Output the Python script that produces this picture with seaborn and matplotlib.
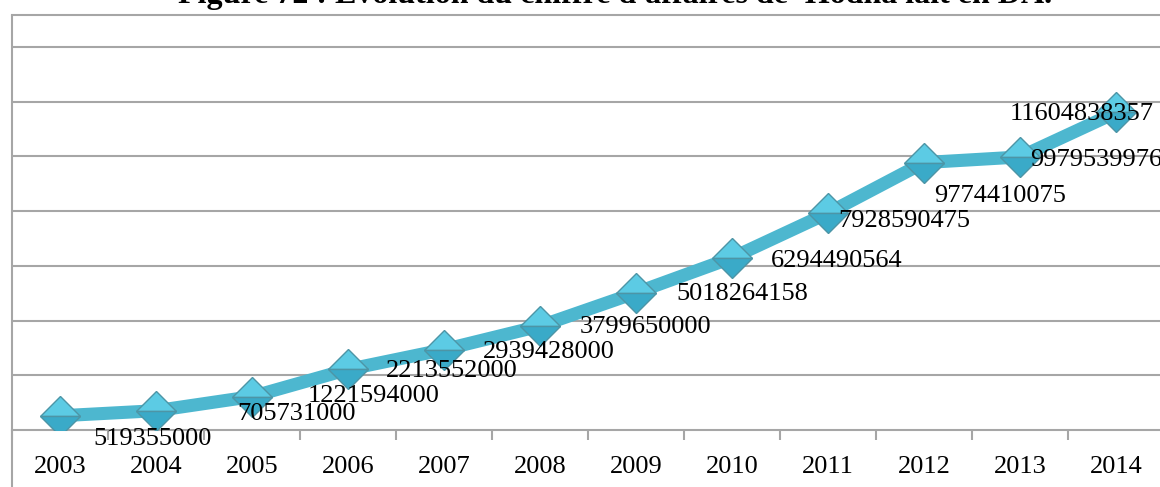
import matplotlib
matplotlib.use("Agg")
import matplotlib.pyplot as plt
import seaborn as sns
import pandas as pd
from matplotlib.lines import Line2D

years = ["2003", "2004", "2005", "2006", "2007", "2008", "2009", "2010",
         "2011", "2012", "2013", "2014"]
revenue = [519355000, 705731000, 1221594000, 2213552000, 2939428000,
           3799650000, 5018264158, 6294490564, 7928590475, 9774410075,
           9979539976, 11604838357]
title = "Figure 72 : Evolution du chiffre d'affaires de 'Hodna lait en DA."

# label offsets in pixels (dx, dy) relative to each point: style only
label_offsets = [(93, -23), (141, -3), (122, 1), (104, -2), (105, -2), (106, -1),
                 (106, -1), (105, -3), (76, -8), (76, -33), (76, -3), (-34, -2)]

W, H, DPI = 1160, 487, 100
sns.set_theme(style="white")
plt.rcParams["font.family"] = ["Liberation Serif", "DejaVu Serif"]

fig = plt.figure(figsize=(W / DPI, H / DPI), dpi=DPI)
left_px, right_px, top_px, bottom_px = 12, 1164, 15, 430
ax = fig.add_axes([left_px / W, (H - bottom_px) / H,
                   (right_px - left_px) / W, (bottom_px - top_px) / H])

df = pd.DataFrame({"pos": range(len(years)), "value": revenue})
line_color = "#4db7cf"
sns.lineplot(data=df, x="pos", y="value", ax=ax, color=line_color,
             linewidth=9.4, marker="D", markersize=20.4,
             fillstyle="top", markerfacecolor="#5ccbe4",
             markerfacecoloralt="#3aaac8", markeredgecolor="#4d95a6",
             markeredgewidth=1.0, solid_capstyle="butt", zorder=3)

ax.set_xlim(-0.5, len(years) - 0.5)
ax.set_ylim(0, (bottom_px - top_px) / 27.36 * 1e9)

grid_color = "#a6a6a6"
ax.set_yticks([2e9 * k for k in range(1, 8)])
ax.set_yticklabels([])
ax.tick_params(axis="y", length=0)
ax.yaxis.grid(True, color=grid_color, linewidth=1.5)
ax.xaxis.grid(False)
ax.set_axisbelow(True)

ax.set_xticks(range(len(years)))
ax.set_xticklabels(years, fontsize=19, color="black")
ax.set_xticks([i - 0.5 for i in range(len(years) + 1)], minor=True)
ax.tick_params(axis="x", which="major", length=0, pad=18.5)
ax.tick_params(axis="x", which="minor", length=7.5, width=1.5,
               color=grid_color, direction="out", bottom=True)
ax.set_xlabel("")
ax.set_ylabel("")

for side in ["left", "right"]:
    ax.spines[side].set_visible(False)
for side in ["top", "bottom"]:
    ax.spines[side].set_color(grid_color)
    ax.spines[side].set_linewidth(1.5)

# outer chart border (left edge), extends below the plot area
fig.add_artist(Line2D([left_px / W, left_px / W], [0, (H - top_px) / H],
                      transform=fig.transFigure, color=grid_color, linewidth=1.5))

for i, (v, (dx, dy)) in enumerate(zip(revenue, label_offsets)):
    ax.annotate(f"{v}", xy=(i, v), xytext=(dx * 72 / DPI, dy * 72 / DPI),
                textcoords="offset points", ha="center", va="center",
                fontsize=19, color="black", zorder=4)

fig.text(178 / W, (H - 3) / H, title, ha="left", va="baseline",
         fontsize=23, fontweight="bold", color="black")

fig.savefig("out.png", dpi=DPI)
